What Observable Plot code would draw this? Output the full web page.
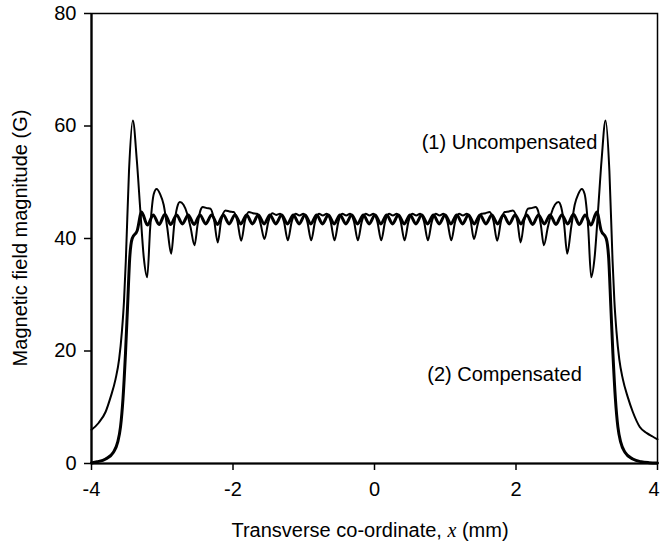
<!DOCTYPE html>
<html>
<head>
<meta charset="utf-8">
<script src="https://cdn.jsdelivr.net/npm/d3@7"></script>
<script src="https://cdn.jsdelivr.net/npm/@observablehq/plot@0.6"></script>
<style>
  html, body { margin: 0; padding: 0; background: #fff; }
  #chart { width: 660px; height: 550px; }
</style>
</head>
<body>
<div id="chart"></div>
<script>
// ---- data ----
const xTicks = [-4, -2, 0, 2, 4];
const xTickLabels = ["-4", "-2", "0", "2", "4"];
const yTicks = [0, 20, 40, 60, 80];

const xTitle = "Transverse co-ordinate, ";
const xTitleVar = "x";
const xTitleUnit = " (mm)";
const yTitle = "Magnetic field magnitude (G)";

const seriesNames = ["(1) Uncompensated", "(2) Compensated"];
const seriesLabelX = [3.15, 2.93];
const seriesLabelY = [57.1, 15.8];

// (1) Uncompensated: [x (mm), |B| (G)]
const uncompensated = [
  [-4.00,6.0],[-3.90,7.2],[-3.80,9.2],[-3.73,11.8],[-3.66,15.0],[-3.61,18.5],[-3.57,23.5],[-3.54,29.0],
  [-3.515,36.0],[-3.47,52.0],[-3.416,61.0],[-3.36,54.0],[-3.31,45.0],[-3.26,36.5],[-3.213,33.1],
  [-3.17,42.0],[-3.12,47.9],[-3.08,48.8],[-3.03,47.9],[-2.98,46.0],[-2.93,42.0],[-2.874,37.3],
  [-2.83,42.5],[-2.79,45.5],[-2.751,46.5],[-2.70,46.0],[-2.65,44.5],[-2.60,42.0],[-2.544,38.8],
  [-2.50,42.5],[-2.46,45.0],[-2.427,45.6],[-2.37,45.4],[-2.318,45.3],[-2.27,43.5],[-2.215,39.3],
  [-2.17,43.0],[-2.106,45.0],[-2.05,44.8],[-1.99,44.7],[-1.94,43.2],[-1.884,39.6],
  [-1.83,43.2],[-1.776,44.7],[-1.72,44.5],[-1.66,44.4],[-1.61,42.6],[-1.555,39.9],
  [-1.50,43.0],[-1.445,44.5],[-1.39,44.2],[-1.335,44.4],[-1.28,43.0],[-1.225,39.7],
  [-1.17,43.0],[-1.115,44.4],[-1.06,44.1],[-1.005,44.4],[-0.95,43.0],[-0.895,39.7],
  [-0.84,43.0],[-0.785,44.4],[-0.73,44.1],[-0.675,44.4],[-0.62,43.0],[-0.565,39.7],
  [-0.51,43.0],[-0.455,44.4],[-0.40,44.1],[-0.345,44.4],[-0.29,43.0],[-0.235,39.7],
  [-0.18,43.0],[-0.125,44.4],[-0.07,44.1],[-0.015,44.4],[0.04,43.0],[0.095,39.7],
  [0.15,43.0],[0.205,44.4],[0.26,44.1],[0.315,44.4],[0.37,43.0],[0.425,39.7],
  [0.48,43.0],[0.535,44.4],[0.59,44.1],[0.645,44.4],[0.70,43.0],[0.755,39.7],
  [0.81,43.0],[0.865,44.4],[0.92,44.1],[0.975,44.4],[1.03,43.0],[1.085,39.7],
  [1.14,43.0],[1.195,44.4],[1.25,44.1],[1.305,44.4],[1.36,43.0],[1.405,39.9],
  [1.46,42.6],[1.51,44.4],[1.57,44.5],[1.626,44.7],[1.68,43.2],[1.734,39.6],
  [1.79,43.2],[1.84,44.7],[1.90,44.8],[1.956,45.0],[2.02,43.0],[2.065,39.3],
  [2.12,43.5],[2.168,45.3],[2.22,45.4],[2.277,45.6],[2.31,45.0],[2.35,42.5],[2.394,38.8],
  [2.45,42.0],[2.50,44.5],[2.55,46.0],[2.601,46.5],[2.64,45.5],[2.68,42.5],[2.724,37.3],
  [2.78,42.0],[2.83,46.0],[2.88,47.9],[2.93,48.8],[2.97,47.9],[3.02,42.0],[3.063,33.1],
  [3.11,36.5],[3.16,45.0],[3.21,54.0],[3.266,61.0],[3.32,52.0],[3.365,36.0],[3.39,29.0],
  [3.42,23.5],[3.46,18.5],[3.51,15.0],[3.58,11.8],[3.65,9.2],[3.75,6.5],[3.85,5.4],[3.93,4.8],[4.00,4.3]
];

// (2) Compensated: [x (mm), |B| (G)]
const compensated = [
  [-4.00,0.1],[-3.92,0.3],[-3.80,0.8],[-3.69,2.0],[-3.63,3.8],[-3.59,6.5],[-3.555,11.5],[-3.52,19.5],
  [-3.49,28.0],[-3.46,36.5],[-3.425,40.0],[-3.354,41.4],[-3.2925,44.7],[-3.21,42.4],
  [-3.1275,44.2],[-3.045,42.5],[-2.9625,44.3],[-2.88,42.5],[-2.7975,44.2],[-2.715,42.6],
  [-2.6325,44.2],[-2.55,42.5],[-2.4675,44.2],[-2.385,42.6],[-2.3025,44.2],[-2.22,42.5],
  [-2.1375,44.2],[-2.055,42.6],[-1.9725,44.2],[-1.89,42.6],[-1.8075,44.2],[-1.725,42.6],
  [-1.6425,44.2],[-1.56,42.6],[-1.4775,44.2],[-1.395,42.6],[-1.3125,44.2],[-1.23,42.6],
  [-1.1475,44.2],[-1.065,42.6],[-0.9825,44.2],[-0.90,42.6],[-0.8175,44.2],[-0.735,42.6],
  [-0.6525,44.2],[-0.57,42.6],[-0.4875,44.2],[-0.405,42.6],[-0.3225,44.2],[-0.24,42.6],
  [-0.1575,44.2],[-0.075,42.6],[0.0075,44.2],[0.09,42.6],[0.1725,44.2],[0.255,42.6],
  [0.3375,44.2],[0.42,42.6],[0.5025,44.2],[0.585,42.6],[0.6675,44.2],[0.75,42.6],
  [0.8325,44.2],[0.915,42.6],[0.9975,44.2],[1.08,42.6],[1.1625,44.2],[1.245,42.6],
  [1.3275,44.2],[1.41,42.6],[1.4925,44.2],[1.575,42.6],[1.6575,44.2],[1.74,42.6],
  [1.8225,44.2],[1.905,42.6],[1.9875,44.2],[2.07,42.6],[2.1525,44.2],[2.235,42.5],
  [2.3175,44.2],[2.40,42.6],[2.4825,44.2],[2.565,42.5],[2.6475,44.2],[2.73,42.6],
  [2.8125,44.3],[2.895,42.5],[2.9775,44.2],[3.06,42.4],[3.1425,44.7],[3.204,41.4],
  [3.275,40.0],[3.31,36.5],[3.34,28.0],[3.37,19.5],[3.405,11.5],[3.44,6.5],[3.48,3.8],
  [3.54,2.0],[3.65,0.8],[3.77,0.3],[3.88,0.15],[4.00,0.1]
];

// ---- chart ----
const FONT = "'Liberation Sans', Arial, Helvetica, sans-serif";
const labels = seriesNames.map((t, i) => ({text: t, x: seriesLabelX[i], y: seriesLabelY[i]}));
const lastTick = xTicks[xTicks.length - 1];

const chart = Plot.plot({
  width: 660,
  height: 550,
  marginLeft: 91,
  marginRight: 3,
  marginTop: 13,
  marginBottom: 87,
  style: {fontFamily: FONT, fontSize: "20px", color: "#000", background: "#fff"},
  x: {domain: [-4, 4]},
  y: {domain: [0, 80]},
  marks: [
    Plot.frame({stroke: "#000", strokeWidth: 1.5}),
    // ticks for all positions
    Plot.axisX({ticks: xTicks, tickSize: 7, text: null, label: null, strokeWidth: 1.5}),
    // labels for all but the last tick (centred)
    Plot.axisX({ticks: xTicks.slice(0, -1), tickFormat: (d) => xTickLabels[xTicks.indexOf(d)], tickSize: 0,
                tickPadding: 18, fontSize: 20, label: null}),
    // last tick label kept inside the window
    Plot.axisX({ticks: [lastTick], tickFormat: (d) => xTickLabels[xTicks.indexOf(d)], tickSize: 0,
                tickPadding: 18, fontSize: 20, label: null, textAnchor: "end", dx: 2}),
    Plot.axisY({ticks: yTicks, tickSize: 7, tickPadding: 8, fontSize: 20, label: null, strokeWidth: 1.5}),
    Plot.ruleX([-4], {stroke: "#000", strokeWidth: 2.2}),
    Plot.ruleY([0], {stroke: "#000", strokeWidth: 2.2}),
    Plot.line(uncompensated, {x: (d) => d[0], y: (d) => d[1], curve: "monotone-x", stroke: "#000", strokeWidth: 2}),
    Plot.line(compensated, {x: (d) => d[0], y: (d) => d[1], curve: "monotone-x", stroke: "#000", strokeWidth: 3}),
    Plot.text(labels, {x: "x", y: "y", text: "text", textAnchor: "end", fontSize: 20, fill: "#000"})
  ]
});

document.getElementById("chart").appendChild(chart);

// axis titles (real text)
const svg = d3.select(chart);
svg.append("text")
  .attr("transform", "translate(20,238) rotate(-90)")
  .attr("text-anchor", "middle")
  .attr("dominant-baseline", "central")
  .attr("font-family", FONT)
  .attr("font-size", 20)
  .attr("fill", "#000")
  .text(yTitle);

const xt = svg.append("text")
  .attr("x", 370)
  .attr("y", 530)
  .attr("text-anchor", "middle")
  .attr("dominant-baseline", "central")
  .attr("font-family", FONT)
  .attr("font-size", 20)
  .attr("fill", "#000");
xt.append("tspan").text(xTitle);
xt.append("tspan").attr("font-family", "'Liberation Serif', 'Times New Roman', serif").attr("font-style", "italic").text(xTitleVar);
xt.append("tspan").text(xTitleUnit);
</script>
</body>
</html>
